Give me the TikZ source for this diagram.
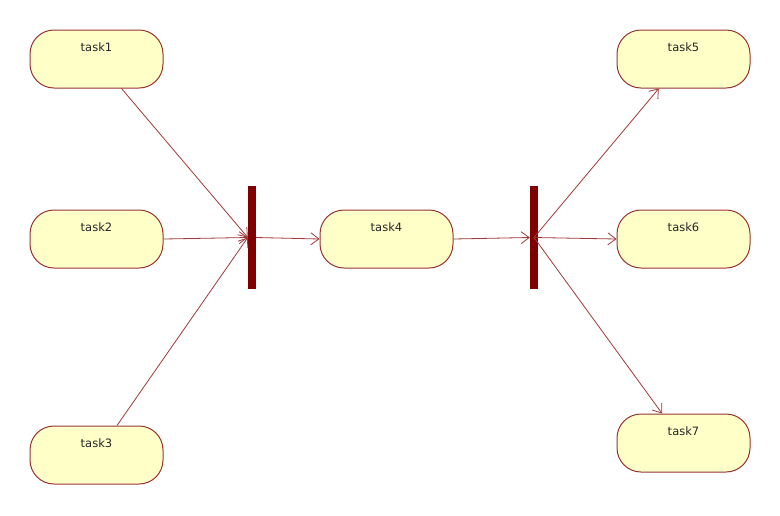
\documentclass[tikz,border=0pt]{standalone}
\usepackage{fontspec}
\setmainfont{DejaVu Sans}
\usetikzlibrary{arrows.meta}
\definecolor{taskfill}{HTML}{FFFFC8}
\definecolor{taskline}{HTML}{993333}
\definecolor{barcol}{HTML}{800000}
\definecolor{flowcol}{HTML}{A03838}
\tikzset{
  task/.style={draw=taskline, fill=taskfill, line width=1pt, rounded corners=24pt,
    minimum width=133pt, minimum height=58pt, inner sep=4pt,
    text height=17pt, text depth=33pt, font=\fontsize{11.5pt}{13pt}\selectfont, text=black!85},
  forkbar/.style={fill=barcol, draw=none, minimum width=8pt, minimum height=103pt, inner sep=0pt},
  flow/.style={draw=flowcol, line width=0.8pt, -{Straight Barb[length=8pt,width=12pt]}}
}
\begin{document}
\begin{tikzpicture}[x=1pt,y=-1pt]
\useasboundingbox (0,0) rectangle (780,515);
\node[task] (t1) at (96.5,59) {task1};
\node[task] (t2) at (96.5,239) {task2};
\node[task] (t3) at (96.5,455) {task3};
\node[task] (t4) at (386.5,239) {task4};
\node[task] (t5) at (683.5,59) {task5};
\node[task] (t6) at (683.5,239) {task6};
\node[task] (t7) at (683.5,443) {task7};
\node[forkbar] (b1) at (252,237.5) {};
\node[forkbar] (b2) at (534,237.5) {};
\draw[flow] (t1) -- (b1.west);
\draw[flow] (t2.east) -- (b1.west);
\draw[flow] (t3) -- (b1.west);
\draw[flow] (b1.east) -- (t4.west);
\draw[flow] (t4.east) -- (b2.west);
\draw[flow] (b2.center) -- (t5);
\draw[flow] (b2.center) -- (t6.west);
\draw[flow] (b2.center) -- (t7);
\end{tikzpicture}
\end{document}
